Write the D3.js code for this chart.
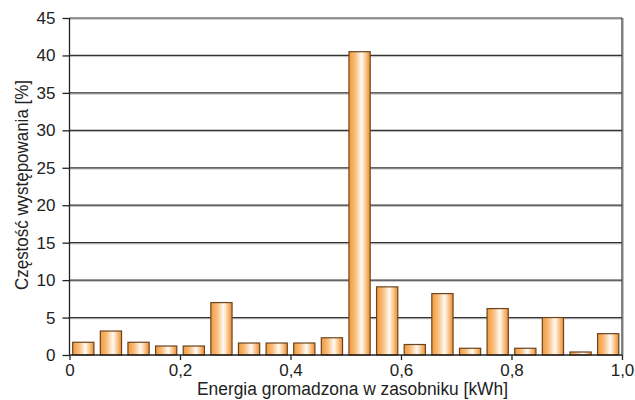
<!DOCTYPE html>
<html><head><meta charset="utf-8">
<script src="https://cdn.jsdelivr.net/npm/d3@7"></script>
<style>body{margin:0;background:#fff}svg{display:block}text{font-family:"Liberation Sans",Arial,sans-serif}</style>
</head><body>
<svg id="c" width="635" height="400"></svg>
<script>
const binStarts = [0,0.05,0.1,0.15,0.2,0.25,0.3,0.35,0.4,0.45,0.5,0.55,0.6,0.65,0.7,0.75,0.8,0.85,0.9,0.95];
const values = [1.7,3.2,1.7,1.2,1.2,7.0,1.6,1.6,1.6,2.3,40.5,9.1,1.4,8.2,0.9,6.2,0.9,5.0,0.4,2.85];
const xTicks = [0,0.2,0.4,0.6,0.8,1.0];
const xTickLabels = ["0","0,2","0,4","0,6","0,8","1,0"];
const yTicks = [0,5,10,15,20,25,30,35,40,45];
const binWidth = 0.05;

const svg = d3.select("#c");
const L=69.5, R=622, T=18, B=355;
const x = d3.scaleLinear().domain([0,1]).range([L,R]);
const y = d3.scaleLinear().domain([0,45]).range([B,T]);

const defs = svg.append("defs");
const g = defs.append("linearGradient").attr("id","bar").attr("x1","0").attr("x2","1").attr("y1","0").attr("y2","0");
[[0,"#f39a3a"],[0.3,"#f9bd7c"],[0.6,"#fffbf4"],[0.8,"#fbc48a"],[1,"#ea8c2e"]].forEach(s=>g.append("stop").attr("offset",s[0]).attr("stop-color",s[1]));

// gridlines with shadow
yTicks.filter(v=>v>0).forEach(v=>{
  svg.append("line").attr("x1",L).attr("x2",R).attr("y1",y(v)+1.2).attr("y2",y(v)+1.2).attr("stroke","#bbb").attr("stroke-width",1);
  svg.append("line").attr("x1",L).attr("x2",R).attr("y1",y(v)).attr("y2",y(v)).attr("stroke","#333").attr("stroke-width",1.2);
});
// right border with shadow
svg.append("line").attr("x1",R+1.3).attr("x2",R+1.3).attr("y1",T).attr("y2",B).attr("stroke","#bbb").attr("stroke-width",1.2);
svg.append("line").attr("x1",R).attr("x2",R).attr("y1",T).attr("y2",B).attr("stroke","#333").attr("stroke-width",1.2);

// bars
const pad = 0.0058;
svg.selectAll("rect.bar").data(values).enter().append("rect").attr("class","bar")
  .attr("x",(d,i)=>x(binStarts[i]+pad))
  .attr("width",(d,i)=>x(binStarts[i]+binWidth-pad)-x(binStarts[i]+pad))
  .attr("y",d=>y(d)).attr("height",d=>y(0)-y(d))
  .attr("fill","url(#bar)").attr("stroke","#6b4420").attr("stroke-width",1.2);

// axes
const yAxis = d3.axisLeft(y).tickValues(yTicks).tickSize(7).tickPadding(7);
const ya = svg.append("g").attr("transform",`translate(${L},0)`).call(yAxis);
const xAxis = d3.axisBottom(x).tickValues(xTicks).tickFormat((d,i)=>xTickLabels[i]).tickSize(5).tickPadding(4);
const xa = svg.append("g").attr("transform",`translate(0,${B})`).call(xAxis);
[ya,xa].forEach(a=>{
  a.select(".domain").attr("stroke","#222").attr("stroke-width",1.3);
  a.selectAll(".tick line").attr("stroke","#222").attr("stroke-width",1.3);
  a.selectAll(".tick text").attr("fill","#222").style("font-size","17px").style("font-family",'"Liberation Sans", Arial, sans-serif');
});
ya.select(".domain").attr("d",`M0,${B}V${T}`);
xa.select(".domain").attr("d",`M${L},0H${R}`);

svg.append("text").attr("x",197).attr("y",395)
  .attr("textLength",311).attr("lengthAdjust","spacingAndGlyphs")
  .style("font-size","18px").attr("fill","#222").text("Energia gromadzona w zasobniku [kWh]");
svg.append("text").attr("transform",`translate(28,290) rotate(-90)`)
  .attr("textLength",210).attr("lengthAdjust","spacingAndGlyphs")
  .style("font-size","19px").attr("fill","#222").text("Częstość występowania [%]");
</script>
</body></html>
